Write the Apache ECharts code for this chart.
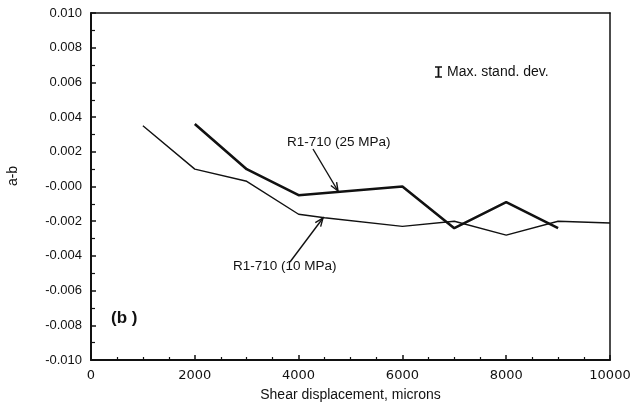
<!DOCTYPE html>
<html>
<head>
<meta charset="utf-8">
<script src="https://cdn.jsdelivr.net/npm/echarts@6/dist/echarts.min.js"></script>
<style>
  html, body { margin: 0; padding: 0; background: #fff; }
  #chart { width: 631px; height: 404px; }
</style>
</head>
<body>
<div id="chart"></div>
<script>
// a-b versus shear displacement for sample R1-710 at two normal stresses
const disp10 = [1000, 2000, 3000, 4000, 4500, 6000, 7000, 8000, 9000, 10000];
const ab10   = [0.0035, 0.0010, 0.0003, -0.0016, -0.0018, -0.0023, -0.0020, -0.0028, -0.0020, -0.0021];

const disp25 = [2000, 3000, 4000, 6000, 7000, 8000, 9000];
const ab25   = [0.0036, 0.0010, -0.0005, 0.0000, -0.0024, -0.0009, -0.0024];

const xTickLabels = ['0', '2000', '4000', '6000', '8000', '10000'];
const yTickLabels = ['-0.010', '-0.008', '-0.006', '-0.004', '-0.002', '-0.000',
                     '0.002', '0.004', '0.006', '0.008', '0.010'];

const pairs = (xs, ys) => xs.map((x, i) => [x, ys[i]]);

const FONT = '"Liberation Sans", Arial, sans-serif';
const INK = '#111';

const chart = echarts.init(document.getElementById('chart'), null, { renderer: 'canvas' });

const mainLine = { show: true, onZero: false, lineStyle: { color: INK, width: 2 } };
const frameLine = { show: true, onZero: false, lineStyle: { color: INK, width: 1.5 } };

chart.setOption({
  animation: false,
  backgroundColor: '#fff',
  grid: { left: 91, right: 21, top: 13, bottom: 44, containLabel: false, outerBoundsMode: 'none' },
  xAxis: [{
    type: 'value', min: 0, max: 10000, interval: 2000,
    axisLine: mainLine, splitLine: { show: false },
    axisTick: { show: true, inside: true, length: 5, lineStyle: { color: INK, width: 1.5 } },
    minorTick: { show: true, splitNumber: 4, length: 3, lineStyle: { color: INK, width: 1.2 } },
    axisLabel: {
      margin: 9, color: INK, fontFamily: '"DejaVu Sans", sans-serif', fontSize: 13,
      formatter: v => xTickLabels[Math.round(v / 2000)]
    },
    name: 'Shear displacement, microns', nameLocation: 'middle', nameGap: 28,
    nameTextStyle: { color: INK, fontFamily: FONT, fontSize: 14 }
  }, {
    type: 'value', min: 0, max: 10000, position: 'top',
    axisLine: frameLine,
    axisTick: { show: false }, axisLabel: { show: false }, splitLine: { show: false }
  }],
  yAxis: [{
    type: 'value', min: -0.01, max: 0.01, interval: 0.002,
    axisLine: mainLine, splitLine: { show: false },
    axisTick: { show: true, inside: true, length: 5, lineStyle: { color: INK, width: 1.5 } },
    minorTick: { show: true, splitNumber: 2, length: 4, lineStyle: { color: INK, width: 1.2 } },
    axisLabel: {
      margin: 9, color: INK, fontFamily: FONT, fontSize: 13,
      formatter: v => yTickLabels[Math.round((v + 0.01) / 0.002)]
    }
  }, {
    type: 'value', min: -0.01, max: 0.01, position: 'right',
    axisLine: frameLine,
    axisTick: { show: false }, axisLabel: { show: false }, splitLine: { show: false }
  }],
  series: [{
    name: 'R1-710 (10 MPa)', type: 'line', data: pairs(disp10, ab10),
    symbol: 'none', lineStyle: { color: INK, width: 1.4 }, z: 3
  }, {
    name: 'R1-710 (25 MPa)', type: 'line', data: pairs(disp25, ab25),
    symbol: 'none', lineStyle: { color: INK, width: 2.6 }, z: 4
  }]
});

// Annotations: leader arrows with open heads, panel tag, y title and the std-dev marker
function arrow(x1, y1, x2, y2) {
  const a = Math.atan2(y2 - y1, x2 - x1);
  const len = 9, spread = 0.38;
  const head = [
    [x2 - len * Math.cos(a - spread), y2 - len * Math.sin(a - spread)],
    [x2, y2],
    [x2 - len * Math.cos(a + spread), y2 - len * Math.sin(a + spread)]
  ];
  const style = { stroke: INK, lineWidth: 1.4, fill: null };
  return [
    { type: 'line', shape: { x1, y1, x2, y2 }, style },
    { type: 'polyline', shape: { points: head }, style }
  ];
}

const txt = (x, y, text, size, extra) => ({
  type: 'text', x, y,
  style: Object.assign({ text, fill: INK, font: size + 'px ' + FONT,
                         textVerticalAlign: 'middle' }, extra || {})
});

chart.setOption({
  graphic: [
    {
      type: 'text', x: 13, y: 176, rotation: Math.PI / 2,
      style: { text: 'a-b', fill: INK, font: '14px ' + FONT,
               textAlign: 'center', textVerticalAlign: 'middle' }
    },
    txt(287, 142, 'R1-710 (25 MPa)', 13.5),
    ...arrow(313, 149, 338, 191),
    txt(233, 266, 'R1-710 (10 MPa)', 13.5),
    ...arrow(290, 262, 323, 218),
    txt(111, 318, '(b )', 17, { font: 'bold 17px ' + FONT }),
    { type: 'line', shape: { x1: 438.5, y1: 67, x2: 438.5, y2: 77 }, style: { stroke: INK, lineWidth: 1.8 } },
    { type: 'line', shape: { x1: 435, y1: 67, x2: 442, y2: 67 }, style: { stroke: INK, lineWidth: 1.5 } },
    { type: 'line', shape: { x1: 435, y1: 77, x2: 442, y2: 77 }, style: { stroke: INK, lineWidth: 1.5 } },
    txt(447, 72, 'Max. stand. dev.', 14)
  ]
});
</script>
</body>
</html>
